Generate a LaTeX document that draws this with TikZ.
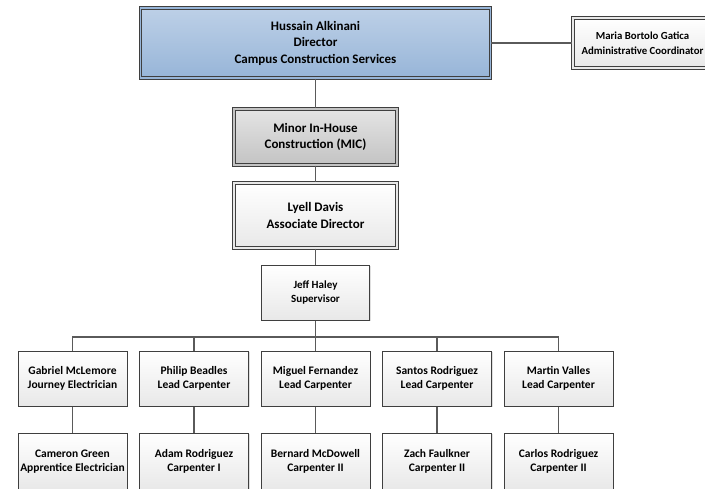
\documentclass[tikz,border=0pt]{standalone}
\usepackage{fontspec}
\setmainfont{Carlito}
\usetikzlibrary{shadows}
\definecolor{ink}{HTML}{3F3F3F}
\definecolor{wire}{HTML}{5A5A5A}
\definecolor{bluetop}{HTML}{BDD0E7}
\definecolor{bluebot}{HTML}{97B5D8}
\definecolor{greytop}{HTML}{E4E4E4}
\definecolor{greybot}{HTML}{C3C3C3}
\definecolor{paletop}{HTML}{FFFFFF}
\definecolor{palebot}{HTML}{E8E8E8}
\tikzset{
  card/.style={draw=ink,line width=1pt,top color=paletop,bottom color=palebot,align=center,inner sep=1pt,
    font=\bfseries\fontsize{11.5}{14.5}\selectfont,
    drop shadow={shadow xshift=1.2pt,shadow yshift=-1.2pt,opacity=.25}},
  headcard/.style={card,line width=1.1pt,double=palebot,double distance=1.1pt,
    font=\bfseries\fontsize{13}{16.5}\selectfont},
  wire/.style={draw=wire,line width=1.1pt}}

\begin{document}
\begin{tikzpicture}[x=1pt,y=-1pt]
  \useasboundingbox (0,0) rectangle (705,488);
  \node[headcard,double=bluebot,top color=bluetop,bottom color=bluebot,minimum width=350pt,minimum height=70pt] (dir) at (315.5,43) {Hussain Alkinani\\Director\\Campus Construction Services};
  \node[headcard,font=\bfseries\fontsize{10.8}{14.5}\selectfont,minimum width=139pt,minimum height=50pt] (adm) at (642.5,43) {Maria Bortolo Gatica\\Administrative Coordinator};
  \node[headcard,double=greybot,top color=greytop,bottom color=greybot,minimum width=163pt,minimum height=56pt] (mic) at (315.5,137) {Minor In-House\\Construction (MIC)};
  \node[headcard,minimum width=163pt,minimum height=65pt] (ld) at (315.5,215.5) {Lyell Davis\\Associate Director};
  \node[card,font=\bfseries\fontsize{11}{13.5}\selectfont,minimum width=108pt,minimum height=55pt] (sup) at (315.5,292.5) {Jeff Haley\\Supervisor};
  \foreach \i/\x/\ra/\rb in {1/72.5/{Gabriel McLemore\\Journey Electrician}/{Cameron Green\\Apprentice Electrician},
      2/194/{Philip Beadles\\Lead Carpenter}/{Adam Rodriguez\\Carpenter I},
      3/315.5/{Miguel Fernandez\\Lead Carpenter}/{Bernard McDowell\\Carpenter II},
      4/437/{Santos Rodriguez\\Lead Carpenter}/{Zach Faulkner\\Carpenter II},
      5/558.5/{Martin Valles\\Lead Carpenter}/{Carlos Rodriguez\\Carpenter II}}{
    \node[card,minimum width=109pt,minimum height=55pt] (a\i) at (\x,378.5) {\ra};
    \node[card,minimum width=109pt,minimum height=57pt] (b\i) at (\x,461.5) {\rb};}
  \coordinate (bar) at (315.5,337);
  \draw[wire] (dir) -- (adm);
  \draw[wire] (dir) -- (mic);
  \draw[wire] (mic) -- (ld);
  \draw[wire] (ld) -- (sup);
  \draw[wire] (sup) -- (bar);
  \draw[wire] (a1.north) |- (bar) -| (a5.north);
  \foreach \i in {2,3,4}
    \draw[wire] (a\i.north) -- (a\i.north |- bar);
  \foreach \i in {1,...,5}
    \draw[wire] (a\i) -- (b\i);
\end{tikzpicture}
\end{document}
